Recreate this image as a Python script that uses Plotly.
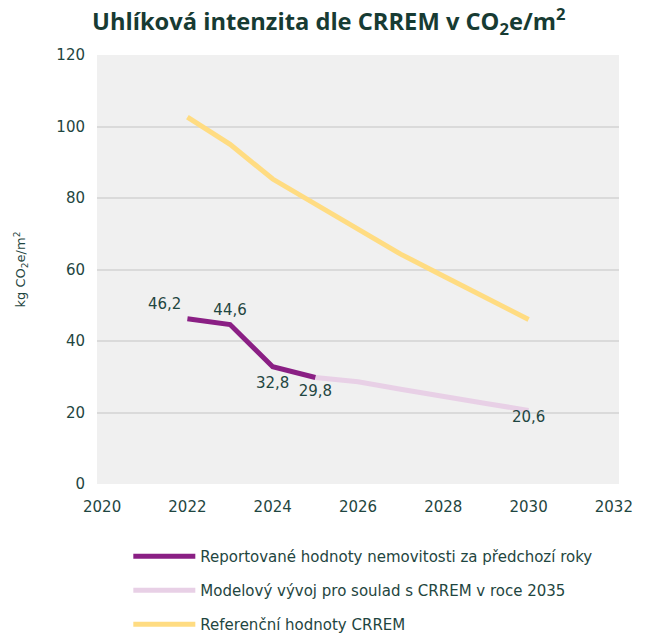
import plotly.graph_objects as go

years_reported = [2022, 2023, 2024, 2025]
values_reported = [46.2, 44.6, 32.8, 29.8]

years_model = [2025, 2026, 2027, 2028, 2029, 2030]
values_model = [29.8, 28.6, 26.5, 24.4, 22.5, 20.6]

years_ref = [2022, 2023, 2024, 2025, 2026, 2027, 2028, 2029, 2030]
values_ref = [102.6, 95.0, 85.3, 78.3, 71.4, 64.3, 58.2, 52.1, 46.0]

x_ticks = [2020, 2022, 2024, 2026, 2028, 2030, 2032]
y_ticks = [0, 20, 40, 60, 80, 100, 120]

names = [
    "Reportované hodnoty nemovitosti za předchozí roky",
    "Modelový vývoj pro soulad s CRREM v roce 2035",
    "Referenční hodnoty CRREM",
]

def fmt(v):
    return f"{v:.1f}".replace(".", ",")

TEXT = "#1f4641"
FONT = "DejaVu Sans"

fig = go.Figure()

fig.add_trace(go.Scatter(
    x=years_ref, y=values_ref, mode="lines", name=names[2],
    line=dict(color="#FFDC82", width=5), legendrank=3, legendgroup="c",
    hoverinfo="skip",
))

model_text = [""] * (len(values_model) - 1) + [fmt(values_model[-1])]
fig.add_trace(go.Scatter(
    x=years_model, y=values_model, mode="lines+text", name=names[1],
    line=dict(color="#E8D0E6", width=5), text=model_text,
    textposition="bottom center", textfont=dict(color=TEXT, size=15, family=FONT),
    legendrank=2, legendgroup="b", hoverinfo="skip",
))

fig.add_trace(go.Scatter(
    x=years_reported, y=values_reported, mode="lines+markers+text", name=names[0],
    line=dict(color="#8A1F84", width=5),
    marker=dict(size=[8, 8, 14, 10], color="rgba(0,0,0,0)",
                line=dict(width=0, color="rgba(0,0,0,0)")),
    text=[fmt(v) for v in values_reported],
    textposition=["top left", "top center", "bottom center", "bottom center"],
    textfont=dict(color=TEXT, size=15, family=FONT),
    legendrank=1, legendgroup="a", hoverinfo="skip",
))

fig.update_layout(
    width=645, height=633,
    paper_bgcolor="white", plot_bgcolor="#F0F0F0",
    margin=dict(l=97, r=26, t=55, b=149, autoexpand=False),
    font=dict(family=FONT, color=TEXT, size=14),
    title=dict(
        text="<b>Uhlíková intenzita dle CRREM v CO<sub>2</sub>e/m<sup>2</sup></b>",
        x=92 / 645, xanchor="left", y=1 - 22 / 633, yanchor="middle",
        font=dict(family="Open Sans", size=23.7, color="#173B33"),
    ),
    xaxis=dict(
        range=[2019.88, 2032.12], tickvals=x_ticks, ticktext=[str(t) for t in x_ticks],
        showgrid=False, zeroline=False, showline=False, ticks="", automargin=False,
        ticklabelstandoff=12, tickfont=dict(size=15, color=TEXT),
    ),
    yaxis=dict(
        range=[0, 120], tickvals=y_ticks, showgrid=True, gridcolor="#DADADA", gridwidth=2,
        zeroline=False, showline=False, ticks="", ticklabelstandoff=11, automargin=False,
        tickfont=dict(size=15, color=TEXT),
        title=dict(text="kg CO<sub>2</sub>e/m<sup>2</sup>", font=dict(size=13, color=TEXT), standoff=27),
    ),
    legend=dict(
        orientation="v", x=0.060, xanchor="left", y=-0.1305, yanchor="top",
        font=dict(size=15, color=TEXT), itemwidth=62, tracegroupgap=11.5,
        traceorder="grouped", bgcolor="rgba(0,0,0,0)",
    ),
    showlegend=True,
)

fig.write_html(
    "out.html",
    config={"displayModeBar": False},
    post_script="document.body.style.margin='0';document.body.style.padding='0';",
)
